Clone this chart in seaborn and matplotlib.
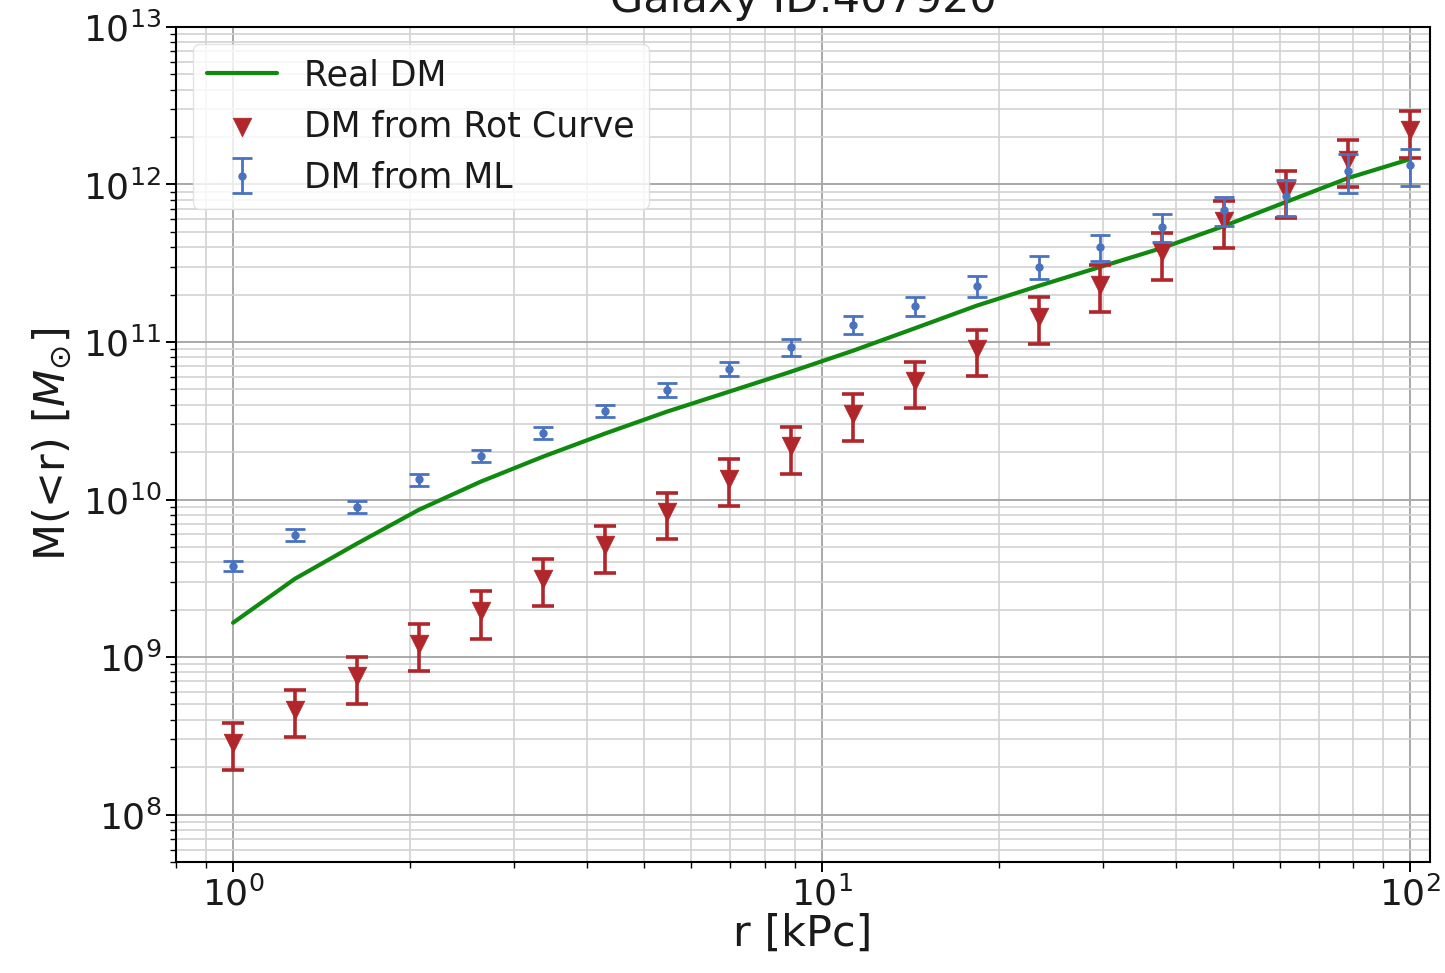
import numpy as np
import matplotlib
matplotlib.use("Agg")
import matplotlib.pyplot as plt
import seaborn as sns

# ---------------- data ----------------
r_kpc = [1.0, 1.274, 1.624, 2.069, 2.637, 3.360, 4.281, 5.456, 6.952, 8.859,
         11.29, 14.38, 18.33, 23.36, 29.76, 37.93, 48.33, 61.58, 78.48, 100.0]

real_dm = [1.65e9, 3.14e9, 5.25e9, 8.61e9, 1.30e10, 1.87e10, 2.62e10, 3.61e10,
           4.83e10, 6.47e10, 8.79e10, 1.22e11, 1.70e11, 2.27e11, 3.00e11,
           3.96e11, 5.46e11, 7.76e11, 1.10e12, 1.45e12]

rot_dm = [2.85e8, 4.62e8, 7.53e8, 1.21e9, 1.96e9, 3.15e9, 5.14e9, 8.33e9,
          1.35e10, 2.18e10, 3.51e10, 5.65e10, 9.02e10, 1.45e11, 2.31e11,
          3.72e11, 5.89e11, 9.14e11, 1.43e12, 2.21e12]
rot_err = [0.94e8, 1.52e8, 2.48e8, 4.0e8, 6.5e8, 1.04e9, 1.70e9, 2.75e9,
           4.46e9, 7.2e9, 1.16e10, 1.86e10, 2.98e10, 4.79e10, 7.6e10,
           1.23e11, 1.94e11, 3.02e11, 4.72e11, 7.3e11]

ml_dm = [3.80e9, 5.98e9, 9.00e9, 1.34e10, 1.90e10, 2.65e10, 3.66e10, 4.98e10,
         6.76e10, 9.33e10, 1.29e11, 1.70e11, 2.27e11, 3.00e11, 4.02e11,
         5.38e11, 6.90e11, 8.47e11, 1.22e12, 1.33e12]
ml_err = [3.0e8, 5.2e8, 7.6e8, 1.2e9, 1.7e9, 2.4e9, 3.3e9, 4.9e9,
          7.2e9, 1.13e10, 1.65e10, 2.4e10, 3.4e10, 4.9e10, 7.5e10,
          1.07e11, 1.47e11, 2.2e11, 3.4e11, 3.5e11]

title = "Galaxy ID:407920"
xlabel = "r [kPc]"
ylabel = r"M(<r) [$M_{\odot}$]"

# ---------------- style ----------------
GREEN = "#0f8a0f"
RED = "#b0262a"
BLUE = "#4a72c0"

sns.set_style("white")
plt.rcParams["font.family"] = ["DejaVu Sans"]
plt.rcParams["mathtext.fontset"] = "dejavusans"
plt.rcParams["text.color"] = "#1a1a1a"
plt.rcParams["axes.labelcolor"] = "#1a1a1a"
plt.rcParams["xtick.color"] = "#1a1a1a"
plt.rcParams["ytick.color"] = "#1a1a1a"

fig = plt.figure(figsize=(14.45, 9.73), dpi=100)
ax = fig.add_axes([0.1218, 0.1141, 0.8678, 0.8582])

sns.lineplot(x=r_kpc, y=real_dm, ax=ax, color=GREEN, lw=3.0, label="Real DM",
             zorder=3)
ax.errorbar(r_kpc, rot_dm, yerr=rot_err, fmt="none", ecolor=RED,
            elinewidth=2.6, capsize=8, capthick=2.6, zorder=4)
sns.scatterplot(x=r_kpc, y=rot_dm, ax=ax, marker="v", s=180, color=RED,
                edgecolor=RED, linewidth=0.5, label="DM from Rot Curve",
                zorder=5)
ax.errorbar(r_kpc, ml_dm, yerr=ml_err, fmt="o", color=BLUE, ecolor=BLUE,
            markersize=5, elinewidth=2.0, capsize=7.5, capthick=2.0,
            label="DM from ML", zorder=6)

ax.set_xscale("log")
ax.set_yscale("log")
ax.set_xlim(0.8, 108)
ax.set_ylim(5e7, 1e13)

ax.grid(True, which="major", color="#a8a8a8", lw=1.4)
ax.grid(True, which="minor", color="#d2d2d2", lw=1.2)
ax.set_axisbelow(True)

for s in ax.spines.values():
    s.set_color("black")
    s.set_linewidth(1.5)
ax.tick_params(which="major", length=7, width=1.4, labelsize=26,
               direction="out", color="black", bottom=True, left=True)
ax.tick_params(which="minor", length=4, width=1.0, direction="out",
               color="black", bottom=True, left=True)

ax.set_xlabel(xlabel, fontsize=31, labelpad=0)
ax.set_ylabel(ylabel, fontsize=31, labelpad=6)
ax.set_title(title, fontsize=31, pad=11)

leg = ax.legend(loc="upper left", fontsize=25, frameon=True, framealpha=0.8,
                edgecolor="#dddddd", fancybox=True)

fig.savefig("out.png", dpi=100)
